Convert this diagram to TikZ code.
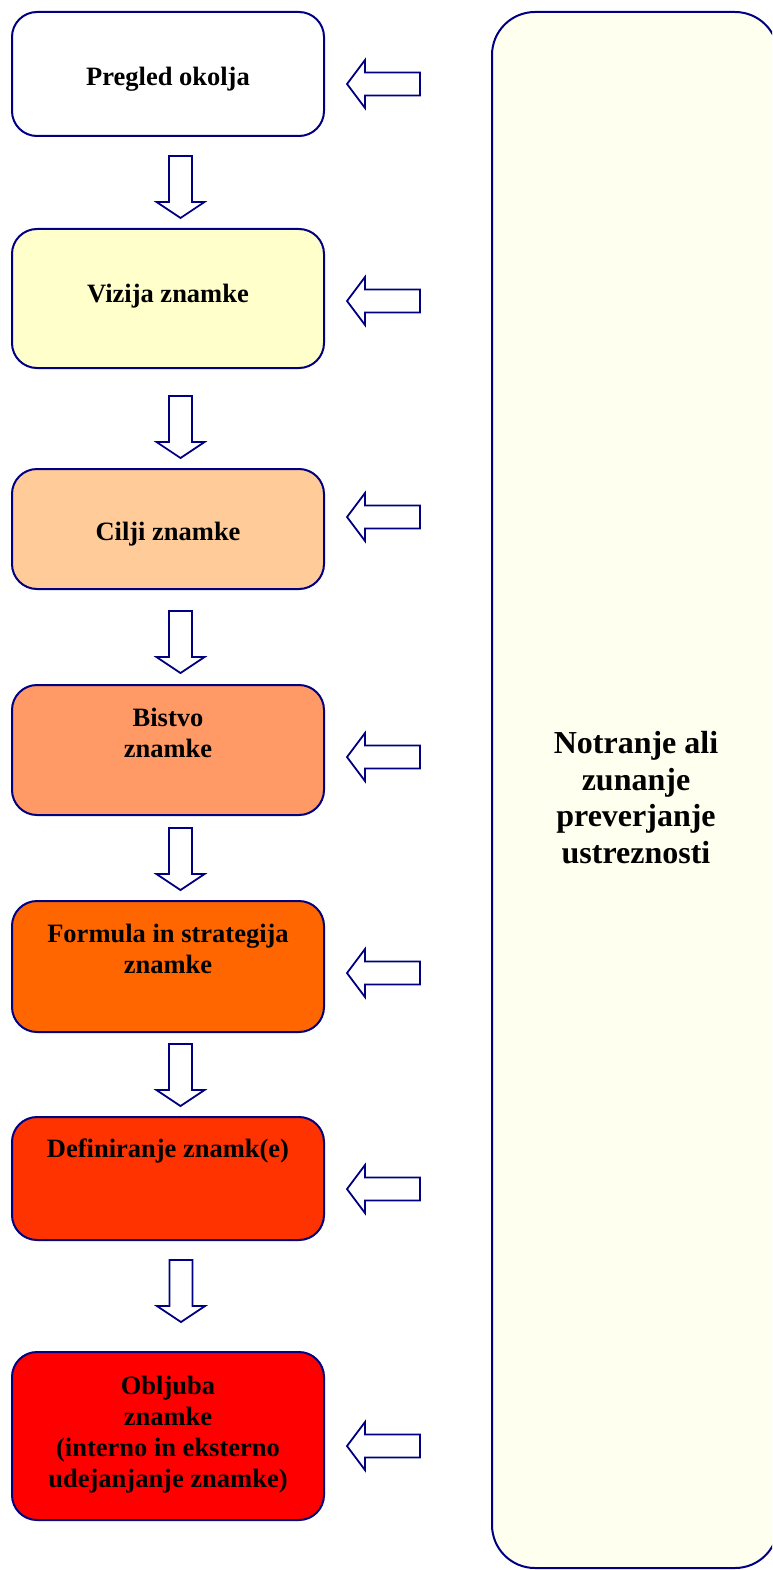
\documentclass[tikz,border=0pt]{standalone}
\usepackage{fontspec}
\setmainfont{Liberation Serif}
\definecolor{frame}{RGB}{0,0,128}
\definecolor{fillA}{RGB}{255,255,255}
\definecolor{fillB}{RGB}{255,255,204}
\definecolor{fillC}{RGB}{255,204,153}
\definecolor{fillD}{RGB}{255,153,102}
\definecolor{fillE}{RGB}{255,102,0}
\definecolor{fillF}{RGB}{255,51,0}
\definecolor{fillG}{RGB}{255,0,0}
\definecolor{panel}{RGB}{255,255,240}
\tikzset{
  stage/.style={draw=frame, line width=2pt, rounded corners=25pt,
    minimum width=312pt, inner sep=0pt, outer sep=0pt},
  stagetext/.style={font=\bfseries\fontsize{26.5}{31}\selectfont,
    align=center, inner sep=0pt, anchor=north},
  paneltext/.style={font=\bfseries\fontsize{32}{36.7}\selectfont,
    align=center, inner sep=0pt, anchor=north},
  hollow/.style={draw=frame, line width=1.8pt, fill=white, line join=miter},
  downarrow/.pic={\draw[hollow] (0,0) -- (24,-16) -- (11.5,-16) -- (11.5,-62)
    -- (-11.5,-62) -- (-11.5,-16) -- (-24,-16) -- cycle;},
  leftarrow/.pic={\draw[hollow] (0,0) -- (18,-24) -- (18,-11.5) -- (73,-11.5)
    -- (73,11.5) -- (18,11.5) -- (18,24) -- cycle;},
}
\begin{document}
\begin{tikzpicture}[x=1pt,y=-1pt]
\useasboundingbox (0,0) rectangle (772,1570);
\clip (0,0) rectangle (772,1570);

% checking panel on the right
\node[draw=frame, line width=2pt, fill=panel, rounded corners=43pt,
  minimum width=286pt, minimum height=1556pt, inner sep=0pt] (panel) at (635,790) {};
\node[paneltext] (ptext) at (636,731) {Notranje ali\\zunanje\\preverjanje\\ustreznosti};

% stages
\node[stage, fill=fillA, minimum height=124pt] (b1) at (168,74) {};
\node[stage, fill=fillB, minimum height=139pt] (b2) at (168,298.5) {};
\node[stage, fill=fillC, minimum height=120pt] (b3) at (168,529) {};
\node[stage, fill=fillD, minimum height=130pt] (b4) at (168,750) {};
\node[stage, fill=fillE, minimum height=131pt] (b5) at (168,966.5) {};
\node[stage, fill=fillF, minimum height=123pt] (b6) at (168,1178.5) {};
\node[stage, fill=fillG, minimum height=168pt] (b7) at (168,1436) {};

\node[stagetext] (t1) at (168,67) {Pregled okolja};
\node[stagetext] (t2) at (168,284) {Vizija znamke};
\node[stagetext] (t3) at (168,522) {Cilji znamke};
\node[stagetext] (t4) at (168,708) {Bistvo\\znamke};
\node[stagetext] (t5) at (168,924) {Formula in strategija\\znamke};
\node[stagetext] (t6) at (168,1139) {Definiranje znamk(e)};
\node[stagetext] (t7) at (168,1376) {Obljuba\\znamke\\(interno in eksterno\\udejanjanje znamke)};

% arrows between consecutive stages
\coordinate (d1) at (180.5,218);
\coordinate (d2) at (180.5,458);
\coordinate (d3) at (180.5,673);
\coordinate (d4) at (180.5,890);
\coordinate (d5) at (180.5,1106);
\coordinate (d6) at (181,1322);
\foreach \k in {1,...,6} { \pic at (d\k) {downarrow}; }

% feedback arrows from the panel
\coordinate (f1) at (347,84);
\coordinate (f2) at (347,301);
\coordinate (f3) at (347,517);
\coordinate (f4) at (347,757);
\coordinate (f5) at (347,973);
\coordinate (f6) at (347,1189);
\coordinate (f7) at (347,1446);
\foreach \k in {1,...,7} { \pic at (f\k) {leftarrow}; }
\end{tikzpicture}
\end{document}
